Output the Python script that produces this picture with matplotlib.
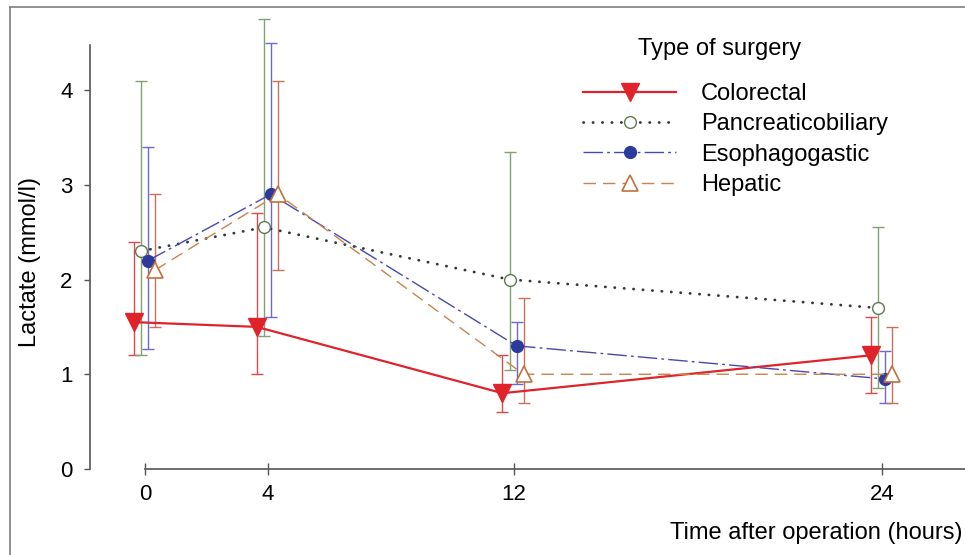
import numpy as np
import matplotlib
matplotlib.use('Agg')
import matplotlib.pyplot as plt
from matplotlib.lines import Line2D

plt.rcParams['font.family'] = ['Liberation Sans', 'DejaVu Sans']

# hours after operation
hours = [0, 4, 12, 24]
names = ['Colorectal', 'Pancreaticobiliary', 'Esophagogastic', 'Hepatic']

# lactate (mmol/l): point, lower bar end, upper bar end
colorectal = [1.55, 1.5, 0.8, 1.2]
colorectal_lo = [1.2, 1.0, 0.6, 0.8]
colorectal_hi = [2.4, 2.7, 1.2, 1.6]

pancreatic = [2.3, 2.55, 2.0, 1.7]
pancreatic_lo = [1.2, 1.4, 1.05, 0.85]
pancreatic_hi = [4.1, 4.75, 3.35, 2.55]

esophagus = [2.2, 2.9, 1.3, 0.95]
esophagus_lo = [1.27, 1.6, 0.9, 0.7]
esophagus_hi = [3.4, 4.5, 1.55, 1.25]

hepatic = [2.1, 2.9, 1.0, 1.0]
hepatic_lo = [1.5, 2.1, 0.7, 0.7]
hepatic_hi = [2.9, 4.1, 1.8, 1.5]

W, H = 965, 555
fig = plt.figure(figsize=(W / 100, H / 100), dpi=100)
# axes box: left spine at x=90 px, y=0 at 469 px from top
ax = fig.add_axes([90 / W, (H - 469) / H, (W - 90) / W, (469 - 8) / H])
px_per_h = (882 - 145) / 24.
ax.set_xlim(-55 / px_per_h, 24 + (W - 882) / px_per_h)
ax.set_ylim(0, (469 - 8) / 94.75)

series = [
    (colorectal, colorectal_lo, colorectal_hi, -0.36,
     dict(color='#e0232a', lw=1.6, ls='-', marker='v', ms=13,
          mfc='#e0232a', mec='#e0232a'), '#dd4a48'),
    (pancreatic, pancreatic_lo, pancreatic_hi, -0.13,
     dict(color='#2e3c30', lw=2.0, ls=(0, (0.1, 3.3)), dash_capstyle='round',
          marker='o', ms=8.5, mfc='white', mec='#5e7a4e', mew=1.0), '#83a070'),
    (esophagus, esophagus_lo, esophagus_hi, 0.1,
     dict(color='#4848b0', lw=1.0, ls=(0, (14, 3, 2, 3)), marker='o', ms=8.5,
          mfc='#2b3a9c', mec='#2b3a9c'), '#6a6ad2'),
    (hepatic, hepatic_lo, hepatic_hi, 0.33,
     dict(color='#c8844a', lw=1.0, ls=(0, (9, 5)), marker='^', ms=11,
          mfc='white', mec='#c0703e', mew=1.2), '#c87058'),
]

handles = []
for (vals, lo, hi, dx, style, ecol), name in zip(series, names):
    x = np.array(hours) + dx
    v = np.array(vals)
    yerr = [v - np.array(lo), np.array(hi) - v]
    ax.errorbar(x, v, yerr=yerr, fmt='none', ecolor=ecol, elinewidth=1.0,
                capsize=4.5, capthick=1.0, clip_on=False, zorder=2)
    h, = ax.plot(x, v, clip_on=False, zorder=3, label=name, **style)
    handles.append(h)

for s in ['top', 'right']:
    ax.spines[s].set_visible(False)
ax.spines['left'].set_bounds(0, 4.48)
ax.spines['bottom'].set_bounds(0, ax.get_xlim()[1])
for s in ['left', 'bottom']:
    ax.spines[s].set_color('#555555')
    ax.spines[s].set_linewidth(1.2)

ax.set_yticks([0, 1, 2, 3, 4])
ax.set_xticks(hours)
ax.tick_params(axis='y', direction='out', length=4.5, width=1.0, pad=8,
               labelsize=16, color='#555555')
ax.tick_params(axis='x', direction='inout', length=9, width=1.0, pad=6,
               labelsize=16, color='#555555')

fig.text(30 / W, 1 - 262 / H, 'Lactate (mmol/l)', rotation=90,
         ha='center', va='center', fontsize=17)
fig.text(963 / W, 1 - 533 / H, 'Time after operation (hours)',
         ha='right', va='center', fontsize=17)

fig.text(720 / W, 1 - 49 / H, 'Type of surgery', ha='center', va='center',
         fontsize=17)
leg = ax.legend(handles=handles, loc='upper left',
                bbox_to_anchor=(583 / W, 1 - 83 / H),
                bbox_transform=fig.transFigure, frameon=False, fontsize=17,
                borderpad=0, borderaxespad=0, handlelength=3.95,
                handletextpad=1.05, labelspacing=0.35)

# frame around the whole picture (cut at right and bottom)
fig.add_artist(Line2D([10 / W, 10 / W], [0, 1 - 7 / H], color='#888888',
                      lw=1.3, transform=fig.transFigure))
fig.add_artist(Line2D([10 / W, 1], [1 - 7 / H, 1 - 7 / H], color='#888888',
                      lw=1.3, transform=fig.transFigure))

fig.savefig('out.png', dpi=100)
